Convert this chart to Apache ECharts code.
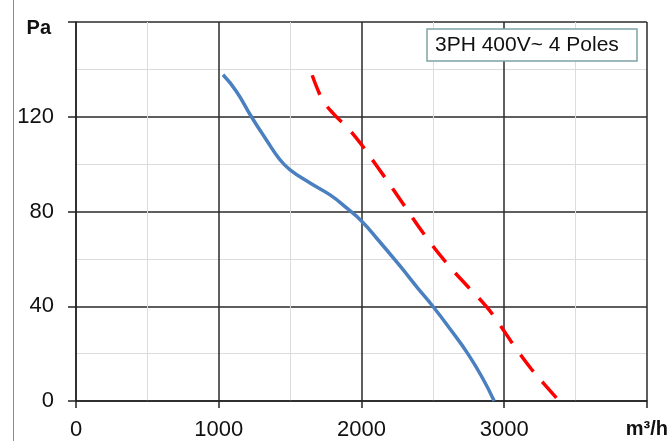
<!DOCTYPE html>
<html>
<head>
<meta charset="utf-8">
<script src="https://cdn.jsdelivr.net/npm/echarts@6/dist/echarts.min.js"></script>
<style>
html,body{margin:0;padding:0;background:#fff;}
#chart{width:671px;height:441px;}
</style>
</head>
<body>
<div id="chart"></div>
<script>
// Curve 1 (solid blue): airflow m3/h and static pressure Pa
const blueFlow     = [1030, 1124, 1228, 1333, 1427, 1500, 1640, 1780, 1900, 2000, 2110, 2270, 2390, 2500, 2620, 2745, 2850, 2930];
const bluePressure = [137.7, 130.7, 120.1, 110.3, 102, 97.6, 92, 87, 81.3, 76, 68.5, 57, 48, 40, 30.5, 20, 9.5, 0];
// Curve 2 (dashed red)
const redFlow      = [1655, 1690, 1730, 1800, 1930, 2110, 2300, 2450, 2600, 2750, 2880, 2960, 3070, 3190, 3290, 3385];
const redPressure  = [137.5, 132, 127, 121.5, 113.5, 99, 82.5, 69.5, 58, 48, 39.5, 33, 23.3, 13.5, 6.5, 0];
// Axis tick values / labels
const xTicks = [0, 1000, 2000, 3000, 4000];
const yTicks = [0, 40, 80, 120, 160];
const xUnit = 'm³/h';
const yUnit = 'Pa';
const noteText = '3PH 400V~ 4 Poles';

const zip = (a, b) => a.map((v, i) => [v, b[i]]);
const FONT = '"Liberation Sans", Arial, sans-serif';

const chart = echarts.init(document.getElementById('chart'), null, {renderer: 'canvas'});
chart.setOption({
  backgroundColor: '#ffffff',
  animation: false,
  grid: {left: 76, right: 23, top: 22, bottom: 39, containLabel: false},
  xAxis: {
    type: 'value',
    min: xTicks[0], max: xTicks[xTicks.length - 1], interval: 1000,
    axisLine: {show: true, lineStyle: {color: '#222', width: 1.5}},
    axisTick: {show: true, length: 7, lineStyle: {color: '#222', width: 1.5}},
    axisLabel: {
      margin: 18, fontSize: 22, color: '#111', fontFamily: FONT,
      formatter: v => v === xTicks[xTicks.length - 1] ? '{u|' + xUnit + '}' : String(v),
      rich: {u: {fontSize: 20, fontWeight: 'bold', color: '#111', fontFamily: FONT}}
    },
    splitLine: {show: true, lineStyle: {color: '#2a2a2a', width: 1.5}},
    minorTick: {show: false, splitNumber: 2},
    minorSplitLine: {show: true, lineStyle: {color: '#dcdcdc', width: 1}}
  },
  yAxis: {
    type: 'value',
    min: yTicks[0], max: yTicks[yTicks.length - 1], interval: 40,
    axisLine: {show: true, lineStyle: {color: '#222', width: 1.5}},
    axisTick: {show: true, length: 8, lineStyle: {color: '#222', width: 1.5}},
    axisLabel: {
      margin: 22, fontSize: 22, color: '#111', fontFamily: FONT,
      formatter: v => v === yTicks[yTicks.length - 1] ? '{u|' + yUnit + '}' : String(v),
      rich: {u: {fontSize: 20, fontWeight: 'bold', color: '#111', fontFamily: FONT, padding: [12, 3, 0, 0]}}
    },
    splitLine: {show: true, lineStyle: {color: '#2a2a2a', width: 1.5}},
    minorTick: {show: false, splitNumber: 2},
    minorSplitLine: {show: true, lineStyle: {color: '#dcdcdc', width: 1}}
  },
  series: [
    {
      type: 'line', data: zip(blueFlow, bluePressure), smooth: 0.5, showSymbol: false,
      lineStyle: {color: '#4a7fc0', width: 3.5}, z: 3
    },
    {
      type: 'line', data: zip(redFlow, redPressure), smooth: 0.5, showSymbol: false,
      lineStyle: {color: '#ff0000', width: 3.5, type: [21, 14], cap: 'butt'}, z: 4
    }
  ],
  graphic: [
    {type: 'line', shape: {x1: 13.5, y1: 0, x2: 13.5, y2: 441}, style: {stroke: '#7a7aff', lineWidth: 1}},
    {type: 'rect', z: 100, zlevel: 1, shape: {x: 427, y: 29, width: 210, height: 32},
     style: {fill: '#ffffff', stroke: '#7fa3a3', lineWidth: 1.5}},
    {type: 'text', z: 101, zlevel: 1, x: 435, y: 45,
     style: {text: noteText, fontSize: 21, fill: '#111', fontFamily: FONT, verticalAlign: 'middle'}}
  ]
});
</script>
</body>
</html>
